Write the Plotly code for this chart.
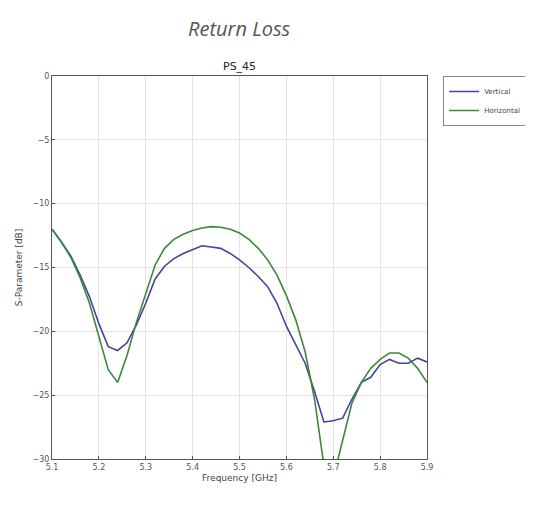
import plotly.graph_objects as go

freq = [5.10, 5.12, 5.14, 5.16, 5.18, 5.20, 5.22, 5.24, 5.26, 5.28, 5.30,
        5.32, 5.34, 5.36, 5.38, 5.40, 5.42, 5.44, 5.46, 5.48, 5.50,
        5.52, 5.54, 5.56, 5.58, 5.60, 5.62, 5.64, 5.66, 5.68, 5.70,
        5.72, 5.74, 5.76, 5.78, 5.80, 5.82, 5.84, 5.86, 5.88, 5.90]

vertical = [-12.0, -13.0, -14.1, -15.6, -17.3, -19.4, -21.2, -21.5, -20.9, -19.5, -17.8,
            -15.9, -14.9, -14.3, -13.9, -13.6, -13.3, -13.4, -13.5, -13.9, -14.4,
            -15.0, -15.7, -16.5, -17.8, -19.6, -21.1, -22.5, -24.7, -27.1, -27.0,
            -26.8, -25.3, -24.0, -23.6, -22.6, -22.2, -22.5, -22.5, -22.1, -22.4]

horizontal = [-12.0, -13.0, -14.2, -15.8, -17.8, -20.3, -23.0, -24.0, -21.9, -19.3, -17.0,
              -14.8, -13.5, -12.8, -12.4, -12.1, -11.9, -11.8, -11.85, -12.0, -12.3,
              -12.8, -13.5, -14.4, -15.6, -17.2, -19.1, -21.6, -25.3, -30.5, -31.5,
              -28.5, -25.6, -24.0, -22.9, -22.2, -21.7, -21.7, -22.1, -22.9, -24.0]

x_ticks = [5.1, 5.2, 5.3, 5.4, 5.5, 5.6, 5.7, 5.8, 5.9]
y_ticks = [0, -5, -10, -15, -20, -25, -30]

FONT = "DejaVu Sans, sans-serif"
TEXT = "#444444"

fig = go.Figure()
fig.add_trace(go.Scatter(x=freq, y=vertical, mode="lines", name="Vertical",
                         line=dict(color="#4343a0", width=1.6)))
fig.add_trace(go.Scatter(x=freq, y=horizontal, mode="lines", name="Horizontal",
                         line=dict(color="#3a8a3a", width=1.6)))

axis_style = dict(
    showline=True, linecolor="#555555", linewidth=1, mirror=True,
    showgrid=True, gridcolor="#e3e3e3", gridwidth=1,
    zeroline=False, ticks="inside", ticklen=3, tickcolor="#555555",
    tickfont=dict(family=FONT, size=8, color="#555555"),
)

fig.update_xaxes(range=[5.1, 5.9], tickvals=x_ticks,
                 ticktext=[f"{v:.1f}" for v in x_ticks],
                 title=dict(text="Frequency [GHz]", standoff=4,
                            font=dict(family=FONT, size=9, color=TEXT)),
                 **axis_style)
fig.update_yaxes(range=[-30, 0], tickvals=y_ticks,
                 title=dict(text="S-Parameter [dB]", standoff=8,
                            font=dict(family=FONT, size=9, color=TEXT)),
                 **axis_style)

# page body adds an 8px offset, so the figure is drawn 8px smaller
fig.update_layout(
    width=525, height=509,
    margin=dict(l=44, r=106, t=68, b=58, autoexpand=False),
    paper_bgcolor="white", plot_bgcolor="white",
    font=dict(family=FONT, color=TEXT),
    legend=dict(x=1.043, y=1.0, xanchor="left", yanchor="top",
                bordercolor="#888888", borderwidth=1,
                font=dict(family=FONT, size=7, color=TEXT),
                tracegroupgap=0, itemwidth=30),
    showlegend=True,
    annotations=[
        dict(text="Return Loss", xref="paper", yref="paper", x=0.5, y=1.125,
             xanchor="center", yanchor="middle", showarrow=False,
             font=dict(family="Open Sans, sans-serif", size=20, color="#555555",
                       style="italic")),
        dict(text="PS_45", xref="paper", yref="paper", x=0.5, y=1.0,
             xanchor="center", yanchor="bottom", showarrow=False, yshift=1,
             font=dict(family=FONT, size=11, color="#222222")),
    ],
)

fig.write_html("out.html")
